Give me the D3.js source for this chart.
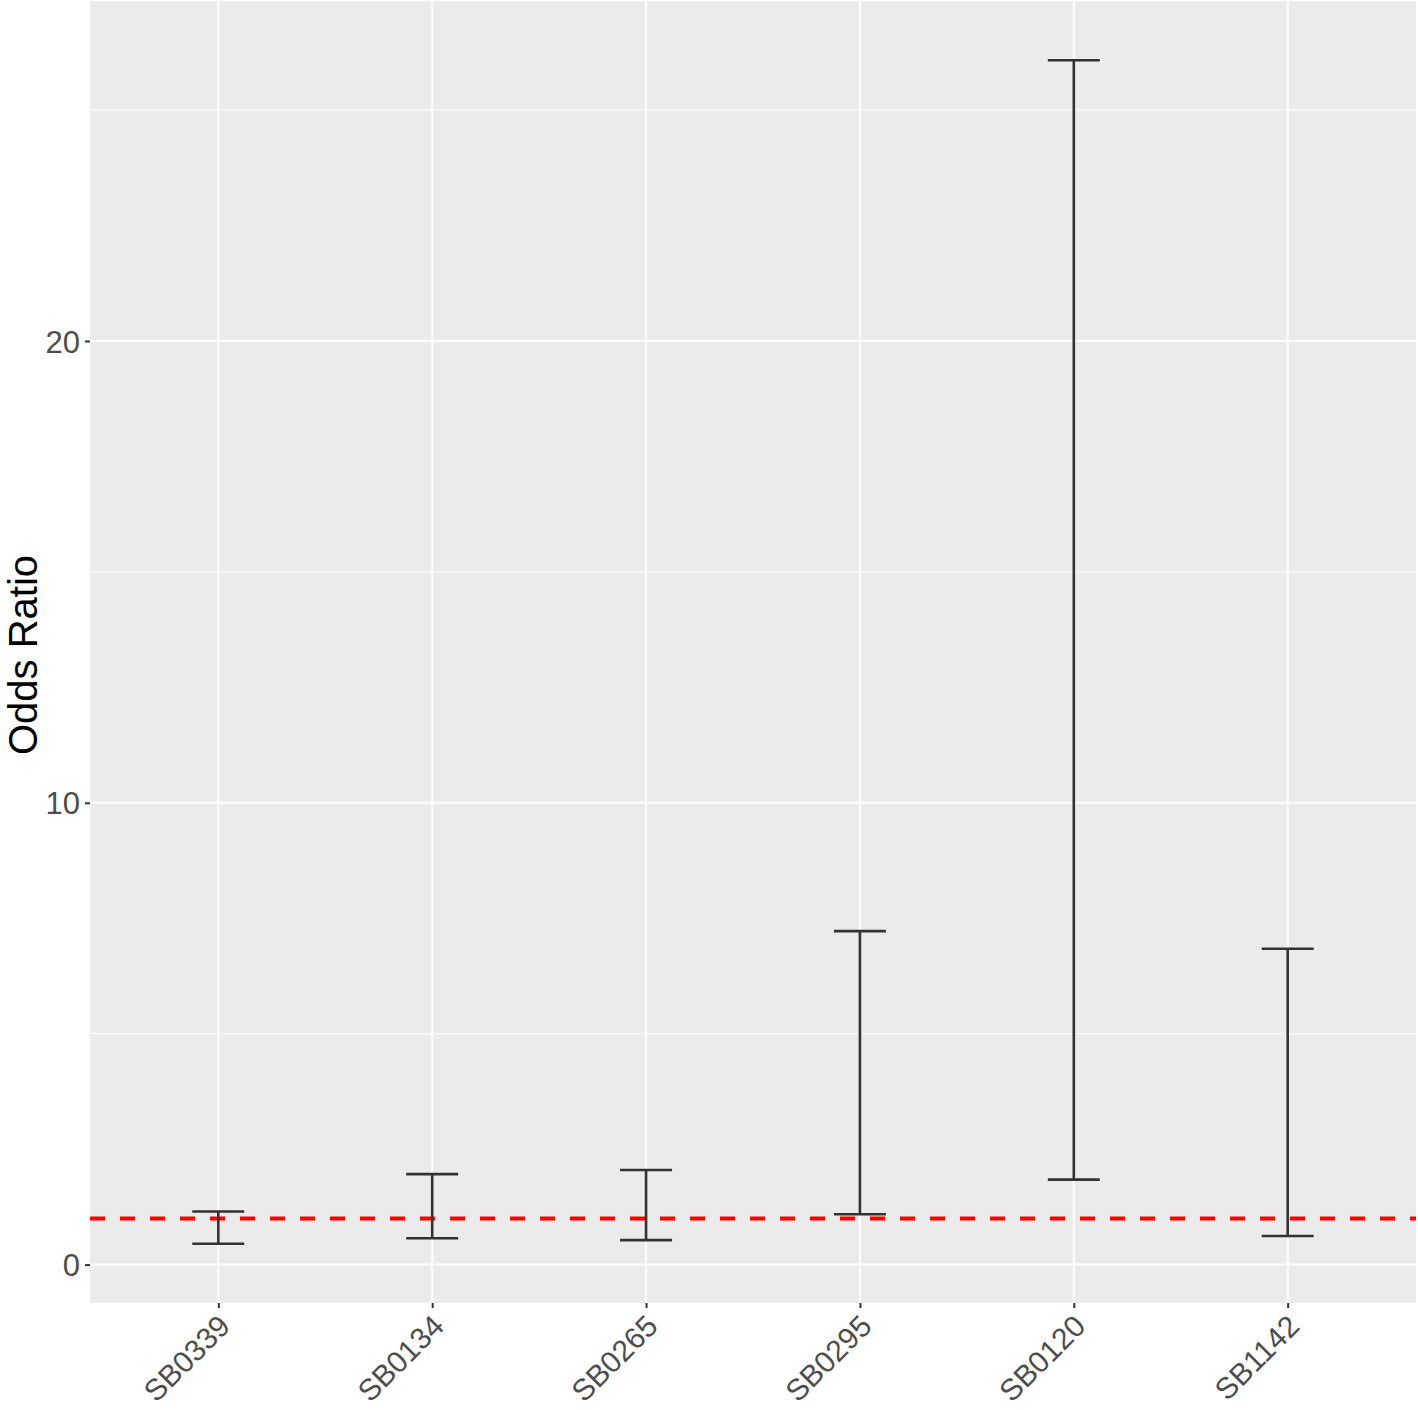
<!DOCTYPE html>
<html><head><meta charset="utf-8">
<script src="https://cdn.jsdelivr.net/npm/d3@7"></script>
<style>body{margin:0;background:#fff}svg{display:block}</style>
</head><body>
<svg id="c" width="1418" height="1410"></svg>
<script>
const categories = ["SB0339","SB0134","SB0265","SB0295","SB0120","SB1142"];
const lower = [0.45, 0.57, 0.53, 1.09, 1.84, 0.62];
const upper = [1.15, 1.96, 2.05, 7.22, 26.08, 6.84];
const refLine = 1;
const yTicks = [0, 10, 20];
const yMinor = [5, 15, 25];

const svg = d3.select("#c");
const L = 90, R = 1416, T = 1, B = 1303;
const FONT = "Liberation Sans, Arial, sans-serif";
const x = d3.scalePoint().domain(categories).range([L, R]).padding(0.6);
const lo = d3.min(lower), hi = d3.max(upper), pad = (hi - lo) * 0.05;
const y = d3.scaleLinear().domain([lo - pad, hi + pad]).range([B, T]);

svg.append("rect").attr("x", L).attr("y", T).attr("width", R - L).attr("height", B - T).attr("fill", "#EBEBEB");
const g = svg.append("g");
g.selectAll(".mn").data(yMinor).join("line").attr("x1", L).attr("x2", R)
  .attr("y1", d => y(d)).attr("y2", d => y(d)).attr("stroke", "#fff").attr("stroke-width", 1);
g.selectAll(".mj").data(yTicks).join("line").attr("x1", L).attr("x2", R)
  .attr("y1", d => y(d)).attr("y2", d => y(d)).attr("stroke", "#fff").attr("stroke-width", 2);
g.selectAll(".vx").data(categories).join("line").attr("y1", T).attr("y2", B)
  .attr("x1", d => x(d)).attr("x2", d => x(d)).attr("stroke", "#fff").attr("stroke-width", 2);

// red dashed reference line
svg.append("line").attr("x1", L).attr("x2", R).attr("y1", y(refLine)).attr("y2", y(refLine))
  .attr("stroke", "#FF0000").attr("stroke-width", 4).attr("stroke-dasharray", "15,15");

// error bars
const capW = 52;
const eb = svg.append("g").attr("stroke", "#333333").attr("stroke-width", 2.6);
categories.forEach((c, i) => {
  const cx = x(c);
  eb.append("line").attr("x1", cx).attr("x2", cx).attr("y1", y(upper[i])).attr("y2", y(lower[i]));
  eb.append("line").attr("x1", cx - capW/2).attr("x2", cx + capW/2).attr("y1", y(upper[i])).attr("y2", y(upper[i]));
  eb.append("line").attr("x1", cx - capW/2).attr("x2", cx + capW/2).attr("y1", y(lower[i])).attr("y2", y(lower[i]));
});

// y axis
const ya = svg.append("g").attr("transform", `translate(${L},0)`)
  .call(d3.axisLeft(y).tickValues(yTicks).tickSize(5).tickPadding(5));
ya.select(".domain").remove();
ya.selectAll(".tick line").attr("stroke", "#333333").attr("stroke-width", 2);
ya.selectAll(".tick text").attr("fill", "#4D4D4D").style("font-family", FONT).style("font-size", "31px")
  .attr("dy", "0.36em");

// x axis
const xa = svg.append("g").attr("transform", `translate(0,${B})`)
  .call(d3.axisBottom(x).tickSize(5).tickPadding(0));
xa.select(".domain").remove();
xa.selectAll(".tick line").attr("stroke", "#333333").attr("stroke-width", 2);
xa.selectAll(".tick text").attr("fill", "#4D4D4D").style("font-family", FONT).style("font-size", "30px")
  .attr("text-anchor", "end").attr("dy", null).attr("y", 0)
  .attr("transform", "translate(13,25) rotate(-45)");

// y title
svg.append("text").attr("transform", `translate(37,${(T + B) / 2 + 3}) rotate(-90)`)
  .attr("text-anchor", "middle").attr("fill", "#000").style("font-family", FONT)
  .style("font-size", "40px").text("Odds Ratio");
</script>
</body></html>
